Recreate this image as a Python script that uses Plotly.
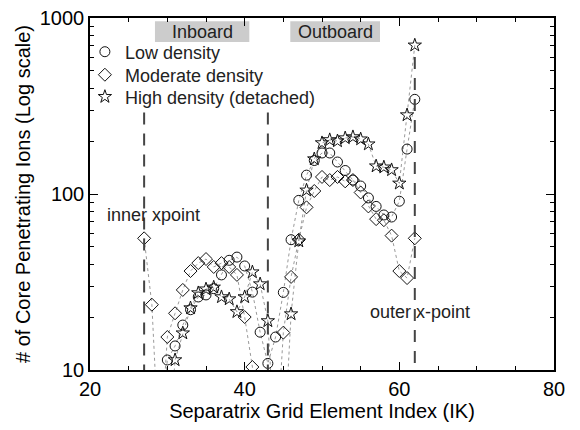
import plotly.graph_objects as go

# Separatrix grid element index
ik = list(range(27, 63))

# Values below 10 are off-scale in the original (drawn only as lines leaving the axis)
low_density = [3, 3, 3, 11.4, 13.7, 18, 22, 26, 26.7, 29, 34.7, 42, 43.8, 39, 27.7, 16.4,
               10.9, 15.4, 27.6, 55, 92, 128, 155, 171, 171, 152, 136, 120, 111, 95, 85,
               76, 74, 91, 180, 345]
moderate_density = [56, 23.5, 3, 15.4, 21, 28.5, 36.5, 40.5, 42.7, 38.5, 40.5, 38.5, 34.7, 20,
                    10.4, 3, 3, 3, 16.3, 33.8, 55, 84, 104, 125, 120, 125, 118, 120, 102, 85,
                    72, 71, 58, 36.5, 33.3, 56]
high_density = [3, 3, 3, 3, 11.4, 16.2, 22.5, 27.4, 28.8, 29.5, 26, 25.3, 21.4, 26, 36, 30.8,
                19, 3, 3, 20.8, 54, 105, 158, 195, 203, 200, 208, 211, 205, 192, 144, 142,
                137, 115, 281, 700]

series_names = ["Low density", "Moderate density", "High density (detached)"]
series_symbols = ["circle-open", "diamond-open", "star-open"]

xpoint_ik = [27, 43, 62]
xpoint_top = [290, 290, 600]

FONT = "Liberation Sans, Arial, Helvetica, sans-serif"

fig = go.Figure()

for vals in [low_density, moderate_density, high_density]:
    fig.add_trace(go.Scatter(x=ik, y=vals, mode="lines", showlegend=False,
                             line=dict(color="#9a9a9a", width=1, dash="dot"),
                             hoverinfo="skip"))

legend_ids = ["legend", "legend2", "legend3"]
for name, sym, vals, lg in zip(series_names, series_symbols,
                               [low_density, moderate_density, high_density], legend_ids):
    fig.add_trace(go.Scatter(x=ik, y=vals, mode="markers", name=name, legend=lg,
                             marker=dict(symbol=sym, size=10, color="#111",
                                         line=dict(width=1, color="#111"))))

# Dashed x-point lines (drawn top-down so the dash pattern starts at the top)
for xv, yt in zip(xpoint_ik, xpoint_top):
    fig.add_shape(type="line", x0=xv, x1=xv, y0=yt, y1=1,
                  xref="x", yref="y",
                  line=dict(color="#444", width=2, dash="12px,9px"), layer="above")

# Inboard / Outboard labels
for label, x0, x1 in [("Inboard", 28.4, 40.6), ("Outboard", 45.9, 57.5)]:
    fig.add_shape(type="rect", x0=x0, x1=x1, y0=0.932, y1=0.991,
                  xref="x", yref="paper", fillcolor="#cccccc",
                  line=dict(width=0), layer="below")
    fig.add_annotation(x=(x0 + x1) / 2, y=0.9615, xref="x", yref="paper",
                       text=label, showarrow=False, yanchor="middle",
                       font=dict(family=FONT, size=18, color="#222"))

fig.add_annotation(x=22.0, y=1.88, xref="x", yref="y", text="inner xpoint",
                   xanchor="left", yanchor="middle", showarrow=False,
                   font=dict(family=FONT, size=18, color="#222"))
fig.add_annotation(x=55.9, y=1.33, xref="x", yref="y", text="outer x-point",
                   xanchor="left", yanchor="middle", showarrow=False,
                   font=dict(family=FONT, size=18, color="#222"))

legend_style = dict(xanchor="left", yanchor="middle", x=-0.011,
                    bgcolor="rgba(0,0,0,0)",
                    font=dict(family=FONT, size=18, color="#222"), itemwidth=30)

fig.update_layout(
    width=580, height=430,
    margin=dict(l=82, r=34, t=10, b=68, autoexpand=False),
    paper_bgcolor="white", plot_bgcolor="white",
    font=dict(family=FONT, size=20, color="#000"),
    showlegend=True,
    legend=dict(y=0.9034, **legend_style),
    legend2=dict(y=0.838, **legend_style),
    legend3=dict(y=0.7756, **legend_style),
)

fig.update_xaxes(range=[20, 80], tickvals=[20, 40, 60, 80], automargin=False,
                 ticks="inside", ticklen=8, tickwidth=1, tickcolor="#000",
                 showline=True, linecolor="#000", linewidth=1.5, mirror="allticks",
                 showgrid=False, zeroline=False, ticklabeloverflow="allow",
                 minor=dict(ticks="inside", ticklen=4, tickcolor="#000",
                            tickvals=[25, 30, 35, 45, 50, 55, 65, 70, 75]),
                 title=dict(text="Separatrix Grid Element Index (IK)", standoff=2,
                            font=dict(size=20)),
                 tickfont=dict(size=20))

fig.update_yaxes(type="log", range=[1, 3], tickvals=[10, 100, 1000], automargin=False,
                 ticktext=["10", "100", "1000"],
                 ticks="inside", ticklen=8, tickwidth=1, tickcolor="#000",
                 showline=True, linecolor="#000", linewidth=1.5, mirror="allticks",
                 showgrid=False, zeroline=False, ticklabeloverflow="allow",
                 minor=dict(ticks="inside", ticklen=4, tickcolor="#000",
                            tickvals=[20, 30, 40, 50, 60, 70, 80, 90,
                                      200, 300, 400, 500, 600, 700, 800, 900]),
                 title=dict(text="# of Core Penetrating Ions (Log scale)", standoff=4,
                            font=dict(size=20)),
                 tickfont=dict(size=20))

fig.write_html("out.html")
